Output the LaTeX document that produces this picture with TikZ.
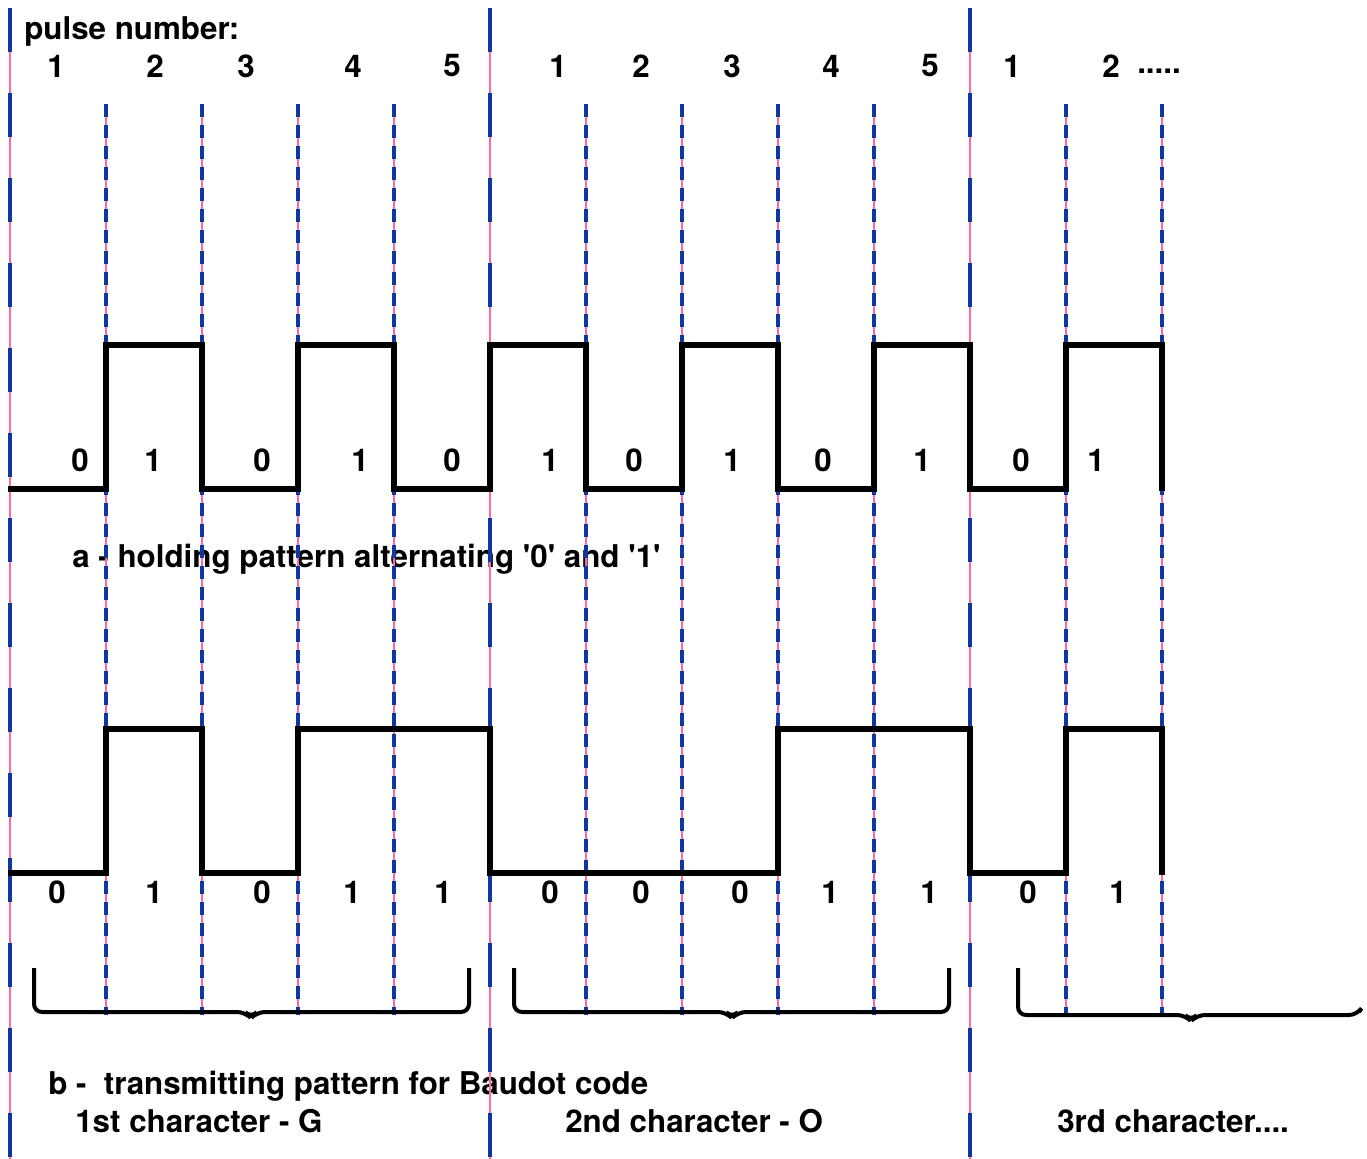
\documentclass[tikz,border=0pt]{standalone}
\usepackage{fontspec}
\setmainfont{TeX Gyre Heros}
\definecolor{linepink}{RGB}{255,105,165}
\definecolor{lineblue}{RGB}{15,55,160}

\tikzset{
  lbl/.style={font=\fontsize{23.5}{28}\selectfont\bfseries, inner sep=0pt},
  pulse/.style={line width=4pt, line join=miter, black},
  guide/.style={linepink, line width=1pt},
  majordash/.style={lineblue, line width=2.6pt, dash pattern=on 33pt off 30.75pt},
  minordash/.style={lineblue, line width=2.6pt, dash pattern=on 9.75pt off 6pt},
  brace/.style={line width=3pt, rounded corners=6pt},
}

\begin{document}
\begin{tikzpicture}[x=0.75pt, y=-0.75pt]
      \useasboundingbox (0,0) rectangle (1367,1159);

      % texts
      \draw (24,31) node[lbl, anchor=west] (title) {pulse number:};
      \draw (56,66) node[lbl] (p1) {1};
      \draw (155,66) node[lbl] (p2) {2};
      \draw (246,66) node[lbl] (p3) {3};
      \draw (353,66) node[lbl] (p4) {4};
      \draw (452,66) node[lbl] (p5) {5};
      \draw (558,66) node[lbl] (q1) {1};
      \draw (641,66) node[lbl] (q2) {2};
      \draw (732,66) node[lbl] (q3) {3};
      \draw (831,66) node[lbl] (q4) {4};
      \draw (930,66) node[lbl] (q5) {5};
      \draw (1012,66) node[lbl] (r1) {1};
      \draw (1111,66) node[lbl] (r2) {2};
      \draw (1137,71) node[lbl, anchor=west] (rdots) {.....};

      \draw (72,559) node[lbl, anchor=west] (capa) {a - holding pattern alternating \textquotesingle0\textquotesingle\ and \textquotesingle1\textquotesingle};
      \draw (48,1086) node[lbl, anchor=west] (capb) {b -\ \ transmitting pattern for Baudot code};
      \draw (75,1121) node[lbl, anchor=west] (chr1) {1st character - G};
      \draw (565,1121) node[lbl, anchor=west] (chr2) {2nd character - O};
      \draw (1057,1121) node[lbl, anchor=west] (chr3) {3rd character....};

      % bit values, pattern a
      \draw (80,460) node[lbl] (a1) {0};
      \draw (153,460) node[lbl] (a2) {1};
      \draw (262,460) node[lbl] (a3) {0};
      \draw (360,460) node[lbl] (a4) {1};
      \draw (452,460) node[lbl] (a5) {0};
      \draw (550,460) node[lbl] (a6) {1};
      \draw (634,460) node[lbl] (a7) {0};
      \draw (732,460) node[lbl] (a8) {1};
      \draw (823,460) node[lbl] (a9) {0};
      \draw (922,460) node[lbl] (a10) {1};
      \draw (1021,460) node[lbl] (a11) {0};
      \draw (1096,460) node[lbl] (a12) {1};

      % bit values, pattern b
      \draw (57,892) node[lbl] (b1) {0};
      \draw (154,892) node[lbl] (b2) {1};
      \draw (262,892) node[lbl] (b3) {0};
      \draw (352,892) node[lbl] (b4) {1};
      \draw (443,892) node[lbl] (b5) {1};
      \draw (550,892) node[lbl] (b6) {0};
      \draw (641,892) node[lbl] (b7) {0};
      \draw (740,892) node[lbl] (b8) {0};
      \draw (830,892) node[lbl] (b9) {1};
      \draw (929,892) node[lbl] (b10) {1};
      \draw (1028,892) node[lbl] (b11) {0};
      \draw (1118,892) node[lbl] (b12) {1};

      % character boundaries
      \draw[guide] (10,8) -- (10,1159);
      \draw[majordash] (10,8) -- (10,1159);
      \draw[guide] (490,8) -- (490,1159);
      \draw[majordash] (490,8) -- (490,1159);
      \draw[guide] (970,8) -- (970,1159);
      \draw[majordash] (970,8) -- (970,1159);

      % pulse boundaries
      \draw[guide] (106,104) -- (106,1015);
      \draw[minordash] (106,104) -- (106,1015);
      \draw[guide] (202,104) -- (202,1015);
      \draw[minordash] (202,104) -- (202,1015);
      \draw[guide] (298,104) -- (298,1015);
      \draw[minordash] (298,104) -- (298,1015);
      \draw[guide] (394,104) -- (394,1015);
      \draw[minordash] (394,104) -- (394,1015);
      \draw[guide] (586,104) -- (586,1015);
      \draw[minordash] (586,104) -- (586,1015);
      \draw[guide] (682,104) -- (682,1015);
      \draw[minordash] (682,104) -- (682,1015);
      \draw[guide] (778,104) -- (778,1015);
      \draw[minordash] (778,104) -- (778,1015);
      \draw[guide] (874,104) -- (874,1015);
      \draw[minordash] (874,104) -- (874,1015);
      \draw[guide] (1066,104) -- (1066,1015);
      \draw[minordash] (1066,104) -- (1066,1015);
      \draw[guide] (1162,104) -- (1162,1015);
      \draw[minordash] (1162,104) -- (1162,1015);

      % waveform a
      \draw[pulse] (8,489) -- (106,489) -- (106,345) -- (202,345) -- (202,489)
        -- (298,489) -- (298,345) -- (394,345) -- (394,489) -- (490,489)
        -- (490,345) -- (586,345) -- (586,489) -- (682,489) -- (682,345)
        -- (778,345) -- (778,489) -- (874,489) -- (874,345) -- (970,345)
        -- (970,489) -- (1066,489) -- (1066,345) -- (1162,345) -- (1162,491);

      % waveform b
      \draw[pulse] (8,873) -- (106,873) -- (106,729) -- (202,729) -- (202,873)
        -- (298,873) -- (298,729) -- (490,729) -- (490,873) -- (778,873)
        -- (778,729) -- (970,729) -- (970,873) -- (1066,873) -- (1066,729)
        -- (1162,729) -- (1162,875);

      % braces
      \draw[brace] (34,968) -- (34,1012) -- (245,1012) -- (251,1018) -- (257,1012) -- (469,1012) -- (469,968);
      \draw[brace] (514,968) -- (514,1012) -- (726,1012) -- (732,1018) -- (738,1012) -- (949,1012) -- (949,968);
      \draw[brace] (1018,968) -- (1018,1015) -- (1185,1015) -- (1191,1021) -- (1197,1015) -- (1357,1015) -- (1359,1012);
    \end{tikzpicture}
\end{document}
